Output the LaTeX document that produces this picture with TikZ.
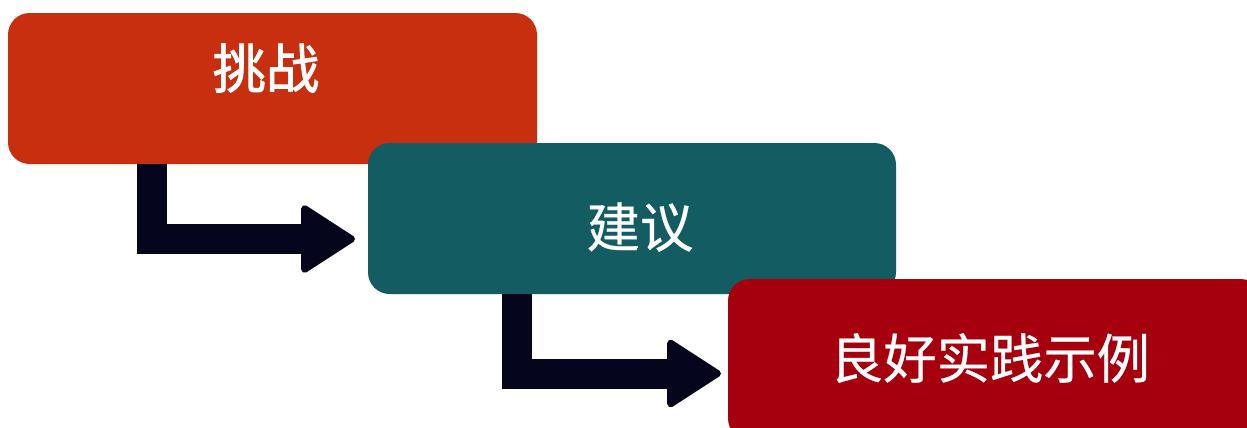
\documentclass[tikz,border=0pt]{standalone}
\usepackage{fontspec}
\newfontfamily\cjk{Noto Sans CJK SC}
\newfontfamily\cjkmed[FakeBold=1.6]{Noto Sans CJK SC}
\newfontfamily\cjkreg[FakeBold=0.5]{Noto Sans CJK SC}
\usetikzlibrary{arrows.meta}
\definecolor{boxorange}{HTML}{C82F0E}
\definecolor{boxteal}{HTML}{135C62}
\definecolor{boxred}{HTML}{A6000E}
\definecolor{arrowdark}{HTML}{05051E}
\tikzset{
  stagebox/.style={fill=#1, draw=none, rounded corners=13pt, inner sep=0pt},
  stagetext/.style={text=white, font=\cjkreg\fontsize{32}{36}\selectfont, inner sep=0pt},
  conn/.style={draw=arrowdark, line width=18pt,
    -{Triangle[length=34pt,width=43pt,round,line width=4pt]}}
}
\begin{document}
\begin{tikzpicture}[x=0.6pt,y=-0.6pt]
\useasboundingbox (0,0) rectangle (1247,427);
\clip (0,0) rectangle (1247,427);
\fill[white] (0,0) rectangle (1247,427);
% boxes
\node[stagebox=boxorange, minimum width=317.4pt, minimum height=90.6pt] (b1) at (272.5,88.5) {};
\node[stagebox=boxteal, minimum width=316.8pt, minimum height=90.6pt] (b2) at (632,218.5) {};
\node[stagebox=boxred, minimum width=320.4pt, minimum height=96.6pt] (b3) at (995,359.5) {};
% texts
\node[stagetext, font=\cjkmed\fontsize{32}{36}\selectfont] (t1) at (266,68) {挑战};
\node[stagetext] (t2) at (640,227) {建议};
\node[stagetext] (t3) at (990,358) {良好实践示例};
% connectors
\coordinate (s1) at (151.5,164);
\coordinate (e1) at (355,239);
\coordinate (s2) at (516.5,294);
\coordinate (e2) at (721,373.5);
\draw[conn] (s1) |- (e1);
\draw[conn] (s2) |- (e2);
\end{tikzpicture}
\end{document}
